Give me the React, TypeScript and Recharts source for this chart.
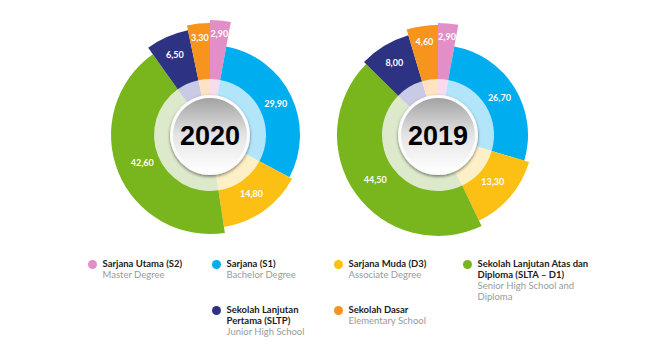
import { Cell, Pie, PieChart } from "recharts";

const CATEGORIES = [
  "Sarjana Utama (S2)",
  "Sarjana (S1)",
  "Sarjana Muda (D3)",
  "Sekolah Lanjutan Atas dan\nDiploma (SLTA – D1)",
  "Sekolah Lanjutan\nPertama (SLTP)",
  "Sekolah Dasar",
];

const CATEGORIES_EN = [
  "Master Degree",
  "Bachelor Degree",
  "Associate Degree",
  "Senior High School and\nDiploma",
  "Junior High School",
  "Elementary School",
];

const YEARS = ["2020", "2019"];
const VALUES_2020 = [2.9, 29.9, 14.8, 42.6, 6.5, 3.3];
const VALUES_2019 = [2.9, 26.7, 13.3, 44.5, 8.0, 4.6];

const COLORS = ["#e38fc7", "#00adee", "#fbc013", "#79b51c", "#2e3282", "#f7941d"];
const TINTS = ["#f8dbee", "#b2e5f9", "#fdefc6", "#dde9cb", "#c9cbe6", "#fde2c3"];

// per-slice ring radius and label radius (styling only)
const OUTER_2020 = [115, 90, 93, 99, 107, 112];
const OUTER_2019 = [112, 90, 95, 101, 104, 110];
const LABEL_R_2020 = [102, 73, 72, 73, 88, 98];
const LABEL_R_2019 = [99, 72, 72, 77, 85, 94];

// legend item positions (dot left, row top)
const LEGEND_POS = [
  [88, 258],
  [212, 258],
  [334, 258],
  [463, 258],
  [212, 304],
  [334, 304],
];

const RADIAN = Math.PI / 180;
const RING_IN = 56;

function fmt(v: number) {
  return v.toFixed(2).replace(".", ",");
}

function donut(
  year: string,
  values: number[],
  outer: number[],
  labelR: number[],
  cx: number,
  cy: number,
) {
  const rows = CATEGORIES.map((name, i) => ({ name, value: values[i] }));
  const items = [
    <Pie
      key={`${year}-tint`}
      data={rows}
      dataKey="value"
      cx={cx}
      cy={cy}
      startAngle={90}
      endAngle={-270}
      innerRadius={38}
      outerRadius={RING_IN + 1}
      isAnimationActive={false}
      labelLine={false}
    >
      {rows.map((r, i) => (
        <Cell key={r.name} fill={TINTS[i]} stroke="none" />
      ))}
    </Pie>,
  ];

  rows.forEach((_, k) => {
    items.push(
      <Pie
        key={`${year}-slice-${k}`}
        data={rows}
        dataKey="value"
        cx={cx}
        cy={cy}
        startAngle={90}
        endAngle={-270}
        innerRadius={RING_IN}
        outerRadius={outer[k]}
        isAnimationActive={false}
        labelLine={false}
        label={(p: any) => {
          if (p.index !== k) return null;
          const r = labelR[k];
          const x = p.cx + r * Math.cos(-p.midAngle * RADIAN);
          const y = p.cy + r * Math.sin(-p.midAngle * RADIAN);
          return (
            <text
              x={x}
              y={y}
              fill="#fff"
              fontSize={9}
              fontWeight={700}
              fontFamily="Lato, 'Open Sans', sans-serif"
              textAnchor="middle"
              dominantBaseline="central"
            >
              {fmt(values[k])}
            </text>
          );
        }}
      >
        {rows.map((r, i) => (
          <Cell key={r.name} fill={i === k ? COLORS[i] : "none"} stroke="none" />
        ))}
      </Pie>,
    );
  });

  // white rim with a soft shadow round the centre disk
  items.push(
    <Pie
      key={`${year}-rim`}
      data={[{ name: "rim", value: 1 }]}
      dataKey="value"
      cx={cx}
      cy={cy}
      startAngle={90}
      endAngle={-270}
      innerRadius={36}
      outerRadius={40}
      isAnimationActive={false}
      labelLine={false}
    >
      <Cell fill="#fbfbfb" stroke="none" filter="url(#diskShadow)" />
    </Pie>,
  );

  items.push(
    <Pie
      key={`${year}-disk`}
      data={[{ name: year, value: 1 }]}
      dataKey="value"
      cx={cx}
      cy={cy}
      startAngle={90}
      endAngle={-270}
      innerRadius={0}
      outerRadius={37}
      isAnimationActive={false}
      labelLine={false}
      label={(p: any) => (
        <text
          x={p.cx}
          y={p.cy + 1}
          fill="#000"
          fontSize={27}
          fontWeight={700}
          fontFamily="'Liberation Sans', Arial, sans-serif"
          textAnchor="middle"
          dominantBaseline="central"
        >
          {year}
        </text>
      )}
    >
      <Cell fill="url(#diskGrad)" stroke="none" />
    </Pie>,
  );
  return items;
}

export default function App() {
  return (
    <div
      style={{
        position: "absolute",
        left: 0,
        top: 0,
        width: 657,
        height: 352,
        background: "#fff",
        overflow: "hidden",
        fontFamily: "Lato, 'Open Sans', sans-serif",
      }}
    >
      <PieChart
        width={657}
        height={250}
        margin={{ top: 0, right: 0, bottom: 0, left: 0 }}
        style={{ position: "absolute", left: 0, top: 0 }}
      >
        <defs>
          <linearGradient id="diskGrad" x1="0" y1="0" x2="0" y2="1">
            <stop offset="0%" stopColor="#a2a2a2" />
            <stop offset="50%" stopColor="#e4e4e4" />
            <stop offset="100%" stopColor="#ffffff" />
          </linearGradient>
          <filter id="diskShadow" x="-30%" y="-30%" width="160%" height="160%">
            <feDropShadow dx="0" dy="1.5" stdDeviation="1.5" floodColor="#000" floodOpacity="0.5" />
          </filter>
        </defs>
        {donut(YEARS[0], VALUES_2020, OUTER_2020, LABEL_R_2020, 210, 135)}
        {donut(YEARS[1], VALUES_2019, OUTER_2019, LABEL_R_2019, 438, 135)}
      </PieChart>

      {CATEGORIES.map((name, i) => (
        <div
          key={name}
          style={{
            position: "absolute",
            left: LEGEND_POS[i][0],
            top: LEGEND_POS[i][1],
            display: "flex",
            alignItems: "flex-start",
          }}
        >
          <span
            style={{
              width: 9,
              height: 9,
              borderRadius: "50%",
              background: COLORS[i],
              marginTop: 1.5,
              marginRight: 5.5,
              flexShrink: 0,
            }}
          />
          <div style={{ fontSize: 9.5, lineHeight: "11px", whiteSpace: "pre-line" }}>
            <div style={{ fontWeight: 700, color: "#1c1c1c" }}>{name}</div>
            <div style={{ color: "#9a9a9a" }}>{CATEGORIES_EN[i]}</div>
          </div>
        </div>
      ))}
    </div>
  );
}
